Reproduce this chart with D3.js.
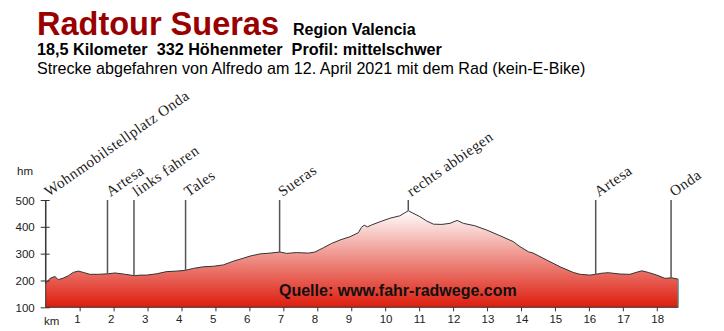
<!DOCTYPE html>
<html>
<head>
<meta charset="utf-8">
<title>Radtour Sueras</title>
<style>
  body { margin: 0; background: #fff; }
  svg { display: block; }
  .head { font-family: Arial, "Liberation Sans", sans-serif; }
  .axis text { font-family: Arial, "Liberation Sans", sans-serif; font-size: 11.5px; fill: #222; }
  .axis line, .axis path { stroke: #333; }
  .marker line { stroke: #555; stroke-width: 1.5; }
  .marker text { font-family: "Liberation Serif", "Times New Roman", serif; font-size: 15px; letter-spacing: 0.5px; fill: #222; }
</style>
</head>
<body>
<div id="chart"></div>
<script src="https://cdn.jsdelivr.net/npm/d3@7"></script>
<script>

var width = 724, height = 331;

// Höhenprofil (km, Höhe in m)
var km = [0, 0.13, 0.27, 0.37, 0.52, 0.67, 0.81, 0.96, 1.11, 1.3, 1.55, 1.84, 2.04, 2.29, 2.61, 2.78, 2.97,
  3.27, 3.56, 3.86, 4.12, 4.35, 4.64, 4.94, 5.23, 5.53, 5.82, 6.02, 6.31, 6.61, 6.9, 7.1, 7.39, 7.74, 7.93,
  8.18, 8.42, 8.67, 8.96, 9.21, 9.3, 9.38, 9.48, 9.6, 9.85, 10.14, 10.43, 10.68, 11.02, 11.22, 11.42, 11.67,
  11.91, 12.12, 12.3, 12.64, 12.99, 13.38, 13.77, 13.97, 14.22, 14.36, 14.76, 15.15, 15.54, 15.74, 16.03,
  16.2, 16.38, 16.57, 16.92, 17.21, 17.36, 17.56, 17.75, 18.0, 18.24, 18.44, 18.63];
var hoehe = [189, 208, 215, 203, 209, 218, 230, 235, 230, 223, 223, 225, 228, 224, 218, 220, 220,
  225, 233, 235, 238, 245, 251, 253, 258, 272, 283, 291, 299, 302, 306, 301, 304, 302, 306,
  322, 338, 351, 363, 378, 398, 406, 400, 407, 419, 432, 441, 460, 438, 422, 410, 409,
  413, 424, 413, 404, 388, 367, 345, 326, 307, 302, 276, 251, 230, 223, 220,
  223, 227, 229, 224, 223, 229, 236, 230, 220, 208, 210, 205];

// Wegpunkte
var orte = ["Wohnmobilstellplatz Onda", "Artesa", "links fahren", "Tales", "Sueras", "rechts abbiegen", "Artesa", "Onda"];
var ortKm = [0, 1.82, 2.6, 4.12, 6.89, 10.68, 16.2, 18.42];

var yTicks = [100, 200, 300, 400, 500];
var xTicks = [1, 2, 3, 4, 5, 6, 7, 8, 9, 10, 11, 12, 13, 14, 15, 16, 17, 18];

var svg = d3.select("#chart").append("svg")
  .attr("width", width)
  .attr("height", height);

var x = d3.scaleLinear().domain([0, 18]).range([45.7, 656.8]);
var y = d3.scaleLinear().domain([100, 500]).range([307.3, 200]);

var profil = km.map(function(k, i){ return [k, hoehe[i]]; });

// Kopf
var head = svg.append("g").attr("class", "head");
head.append("text").attr("x", 37).attr("y", 35)
  .style("font-size", "32.5px").style("font-weight", "bold").style("fill", "#990000")
  .text("Radtour Sueras");
head.append("text").attr("x", 293).attr("y", 35)
  .style("font-size", "16px").style("font-weight", "bold")
  .text("Region Valencia");
head.append("text").attr("x", 37).attr("y", 55).attr("xml:space", "preserve")
  .style("font-size", "16.2px").style("font-weight", "bold").style("white-space", "pre")
  .text("18,5 Kilometer  332 Höhenmeter  Profil: mittelschwer");
head.append("text").attr("x", 37).attr("y", 74)
  .style("font-size", "16.1px")
  .text("Strecke abgefahren von Alfredo am 12. April 2021 mit dem Rad (kein-E-Bike)");

// Verlauf
var grad = svg.append("defs").append("linearGradient")
  .attr("id", "rot")
  .attr("gradientUnits", "userSpaceOnUse")
  .attr("x1", 0).attr("x2", 0)
  .attr("y1", y(462)).attr("y2", y(100));
grad.append("stop").attr("offset", "0%").attr("stop-color", "#ffffff");
grad.append("stop").attr("offset", "100%").attr("stop-color", "#dd1c0c");

var area = d3.area()
  .x(function(d){ return x(d[0]); })
  .y0(y(100))
  .y1(function(d){ return y(d[1]); });

var line = d3.line()
  .x(function(d){ return x(d[0]); })
  .y(function(d){ return y(d[1]); });

svg.append("path").datum(profil)
  .attr("d", area)
  .style("fill", "url(#rot)");

svg.append("path").datum(profil)
  .attr("d", line)
  .style("fill", "none")
  .style("stroke", "#333")
  .style("stroke-width", 1);

var last = profil[profil.length - 1];
svg.append("line")
  .attr("x1", x(last[0])).attr("x2", x(last[0]))
  .attr("y1", y(last[1])).attr("y2", y(100))
  .style("stroke", "#4a9a9a").style("stroke-width", 1.2);

// Wegpunkte
var interp = function(k){
  var i = d3.bisector(function(d){ return d[0]; }).left(profil, k);
  if (i <= 0) return profil[0][1];
  var a = profil[i - 1], b = profil[i];
  return a[1] + (b[1] - a[1]) * (k - a[0]) / (b[0] - a[0]);
};

var marker = svg.append("g").attr("class", "marker")
  .selectAll("g")
  .data(orte)
  .enter().append("g");

marker.append("line")
  .attr("x1", function(d, i){ return x(ortKm[i]); })
  .attr("x2", function(d, i){ return x(ortKm[i]); })
  .attr("y1", y(500))
  .attr("y2", function(d, i){ return y(interp(ortKm[i])); });

marker.append("text")
  .attr("transform", function(d, i){ return "translate(" + (x(ortKm[i]) + 3) + "," + (y(500) - 3) + ") rotate(-35)"; })
  .text(function(d){ return d; });

// Achsen
var yAxis = svg.append("g").attr("class", "axis")
  .attr("transform", "translate(" + x(0) + ",0)")
  .call(d3.axisLeft(y).tickValues(yTicks).tickSize(5).tickPadding(6));
yAxis.select(".domain").remove();
yAxis.selectAll(".tick line").attr("x2", -5).attr("x1", 4);
yAxis.selectAll(".tick text").attr("x", -11).attr("dy", "0.35em");
yAxis.append("line").attr("x1", 0).attr("x2", 0).attr("y1", y(500)).attr("y2", y(100));

var xAxis = svg.append("g").attr("class", "axis")
  .attr("transform", "translate(0," + y(100) + ")")
  .call(d3.axisBottom(x).tickValues(xTicks).tickSize(4));
xAxis.select(".domain").remove();
xAxis.selectAll(".tick text").attr("text-anchor", "start").attr("x", -6).attr("y", 8).attr("dy", "0.71em");
xAxis.append("line").attr("x1", x(0)).attr("x2", x(last[0])).attr("y1", 0).attr("y2", 0);

svg.append("text").attr("class", "axisLabel")
  .attr("x", 44).attr("y", 325)
  .style("font-family", "Arial, 'Liberation Sans', sans-serif").style("font-size", "11.5px").style("fill", "#222")
  .text("km");
svg.append("text")
  .attr("x", 17).attr("y", 175)
  .style("font-family", "Arial, 'Liberation Sans', sans-serif").style("font-size", "11.5px").style("fill", "#222")
  .text("hm");

// Quelle
svg.append("text")
  .attr("x", 279).attr("y", 296)
  .style("font-family", "Arial, 'Liberation Sans', sans-serif")
  .style("font-size", "16px").style("font-weight", "bold").style("fill", "#111")
  .text("Quelle: www.fahr-radwege.com");

</script>
</body>
</html>
